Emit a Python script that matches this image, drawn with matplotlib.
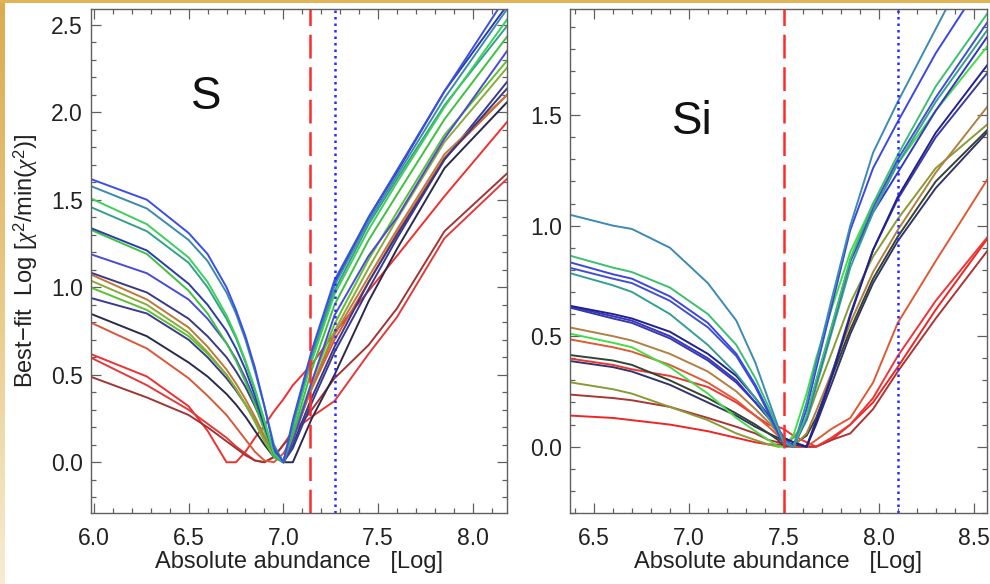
import matplotlib
matplotlib.use("Agg")
import matplotlib.pyplot as plt
import numpy as np
from matplotlib.ticker import MultipleLocator, FormatStrFormatter
from matplotlib.patches import Rectangle
from matplotlib.colors import LinearSegmentedColormap

plt.rcParams['font.family'] = ['Liberation Sans', 'DejaVu Sans']
plt.rcParams['mathtext.fontset'] = 'custom'
plt.rcParams['mathtext.rm'] = 'Liberation Sans'
plt.rcParams['mathtext.it'] = 'Liberation Serif:italic'

# ---------------- data : S panel ----------------
xs_S = [5.98, 6.28, 6.5, 6.6, 6.7, 6.75, 6.8, 6.85, 6.9, 6.95, 7.0, 7.05, 7.15, 7.27, 7.45, 7.6, 7.85, 8.2]
s_blue1   = [1.62, 1.50, 1.31, 1.19, 1.00, 0.87, 0.72, 0.54, 0.32, 0.08, 0.00, 0.24, 0.64, 1.04, 1.40, 1.67, 2.12, 2.70]
s_teal    = [1.58, 1.45, 1.27, 1.15, 0.97, 0.85, 0.70, 0.52, 0.32, 0.10, 0.00, 0.22, 0.62, 1.01, 1.38, 1.64, 2.08, 2.62]
s_green1  = [1.51, 1.36, 1.17, 1.03, 0.84, 0.72, 0.58, 0.42, 0.24, 0.05, 0.00, 0.20, 0.58, 0.96, 1.33, 1.60, 2.03, 2.56]
s_tgreen  = [1.46, 1.32, 1.14, 1.00, 0.82, 0.71, 0.57, 0.41, 0.23, 0.04, 0.00, 0.21, 0.60, 0.98, 1.36, 1.62, 2.04, 2.52]
s_navyb   = [1.34, 1.21, 1.02, 0.90, 0.75, 0.65, 0.53, 0.38, 0.21, 0.05, 0.00, 0.20, 0.60, 1.02, 1.40, 1.66, 2.12, 2.64]
s_green2  = [1.33, 1.19, 0.98, 0.85, 0.68, 0.58, 0.46, 0.33, 0.18, 0.04, 0.00, 0.16, 0.53, 0.90, 1.27, 1.53, 1.96, 2.46]
s_blue2   = [1.19, 1.08, 0.93, 0.82, 0.68, 0.59, 0.48, 0.35, 0.20, 0.05, 0.00, 0.12, 0.46, 0.84, 1.18, 1.40, 1.85, 2.38]
s_navy1   = [1.085, 0.97, 0.82, 0.72, 0.60, 0.52, 0.43, 0.32, 0.20, 0.07, 0.00, 0.10, 0.37, 0.66, 1.03, 1.30, 1.73, 2.16]
s_brown   = [1.075, 0.93, 0.77, 0.66, 0.53, 0.45, 0.36, 0.26, 0.15, 0.05, 0.00, 0.13, 0.43, 0.73, 1.06, 1.33, 1.76, 2.12]
s_olive   = [1.04, 0.90, 0.74, 0.63, 0.50, 0.42, 0.33, 0.24, 0.13, 0.04, 0.00, 0.13, 0.43, 0.75, 1.11, 1.39, 1.83, 2.28]
s_green3  = [1.00, 0.87, 0.72, 0.62, 0.50, 0.42, 0.33, 0.23, 0.12, 0.03, 0.00, 0.15, 0.46, 0.79, 1.16, 1.43, 1.87, 2.32]
s_navy2   = [0.94, 0.85, 0.70, 0.60, 0.48, 0.41, 0.33, 0.24, 0.14, 0.05, 0.00, 0.08, 0.34, 0.63, 0.99, 1.28, 1.73, 2.20]
s_dnavy   = [0.85, 0.72, 0.57, 0.49, 0.39, 0.33, 0.26, 0.18, 0.10, 0.03, 0.00, 0.00, 0.25, 0.50, 0.92, 1.22, 1.68, 2.08]
s_orange  = [0.80, 0.65, 0.48, 0.38, 0.27, 0.20, 0.13, 0.06, 0.01, 0.00, 0.05, 0.15, 0.42, 0.70, 1.03, 1.31, 1.74, 2.12]
s_red1    = [0.62, 0.49, 0.32, 0.18, 0.00, 0.00, 0.06, 0.14, 0.21, 0.29, 0.36, 0.44, 0.56, 0.74, 0.98, 1.18, 1.52, 1.97]
s_red2    = [0.60, 0.44, 0.30, 0.22, 0.14, 0.09, 0.05, 0.01, 0.00, 0.03, 0.10, 0.18, 0.26, 0.35, 0.62, 0.83, 1.28, 1.64]
s_dred    = [0.49, 0.37, 0.27, 0.20, 0.12, 0.08, 0.04, 0.01, 0.00, 0.03, 0.10, 0.16, 0.30, 0.48, 0.67, 0.88, 1.32, 1.67]

S_series = [s_red1, s_red2, s_dred, s_orange, s_dnavy, s_navy2, s_green3, s_olive, s_brown,
            s_navy1, s_blue2, s_green2, s_navyb, s_tgreen, s_green1, s_teal, s_blue1]
S_colors = ['#ee3030', '#e03a3a', '#a03535', '#d9583a', '#2a2a4a', '#3a3a90', '#5cc030', '#8aaa3a', '#c0783a',
            '#3a3a80', '#4a4ad8', '#40c040', '#2a3ca8', '#35a08a', '#3ccf5a', '#3d8aab', '#3a4fe6']
S_ref_dashed = 7.14
S_ref_dotted = 7.27

# ---------------- data : Si panel ----------------
xs_Si = [6.37, 6.6, 6.7, 6.9, 7.1, 7.25, 7.35, 7.42, 7.47, 7.5, 7.55, 7.62, 7.67, 7.75, 7.85, 7.97, 8.1, 8.3, 8.58]
si_teal   = [1.05, 1.00, 0.985, 0.90, 0.74, 0.57, 0.38, 0.21, 0.09, 0.03, 0.00, 0.20, 0.38, 0.66, 1.00, 1.33, 1.56, 1.89, 2.35]
si_gteal  = [0.865, 0.81, 0.79, 0.72, 0.60, 0.46, 0.31, 0.18, 0.08, 0.02, 0.00, 0.14, 0.30, 0.54, 0.85, 1.10, 1.32, 1.63, 1.97]
si_blue1  = [0.835, 0.78, 0.76, 0.68, 0.56, 0.42, 0.28, 0.16, 0.07, 0.02, 0.00, 0.17, 0.35, 0.63, 0.98, 1.26, 1.47, 1.78, 2.15]
si_blue2  = [0.81, 0.76, 0.74, 0.66, 0.54, 0.41, 0.27, 0.15, 0.06, 0.01, 0.00, 0.13, 0.29, 0.53, 0.84, 1.08, 1.30, 1.58, 1.93]
si_tgreen = [0.786, 0.73, 0.70, 0.60, 0.46, 0.33, 0.22, 0.13, 0.06, 0.01, 0.00, 0.12, 0.27, 0.51, 0.81, 1.06, 1.28, 1.56, 1.895]
si_navy1  = [0.638, 0.60, 0.58, 0.52, 0.42, 0.32, 0.22, 0.14, 0.08, 0.04, 0.02, 0.00, 0.11, 0.31, 0.59, 0.89, 1.13, 1.42, 1.736]
si_blue3  = [0.635, 0.59, 0.57, 0.50, 0.40, 0.30, 0.20, 0.13, 0.08, 0.04, 0.00, 0.13, 0.29, 0.53, 0.84, 1.06, 1.24, 1.52, 1.865]
si_navy2  = [0.63, 0.58, 0.56, 0.49, 0.39, 0.29, 0.20, 0.13, 0.08, 0.04, 0.02, 0.00, 0.12, 0.32, 0.60, 0.89, 1.12, 1.40, 1.70]
si_brown  = [0.54, 0.50, 0.48, 0.42, 0.34, 0.25, 0.17, 0.11, 0.06, 0.03, 0.00, 0.06, 0.16, 0.33, 0.56, 0.79, 0.98, 1.24, 1.547]
si_green  = [0.512, 0.47, 0.45, 0.36, 0.24, 0.13, 0.07, 0.03, 0.00, 0.00, 0.05, 0.24, 0.40, 0.62, 0.88, 1.10, 1.28, 1.52, 1.82]
si_orange = [0.486, 0.45, 0.43, 0.37, 0.29, 0.21, 0.14, 0.09, 0.05, 0.02, 0.00, 0.00, 0.03, 0.08, 0.13, 0.29, 0.56, 0.84, 1.22]
si_dark   = [0.415, 0.39, 0.37, 0.30, 0.22, 0.15, 0.10, 0.06, 0.03, 0.00, 0.01, 0.05, 0.13, 0.31, 0.53, 0.76, 0.95, 1.20, 1.44]
si_red1   = [0.399, 0.37, 0.35, 0.32, 0.27, 0.20, 0.14, 0.10, 0.09, 0.08, 0.05, 0.02, 0.00, 0.04, 0.10, 0.22, 0.41, 0.66, 0.956]
si_navy3  = [0.388, 0.36, 0.34, 0.28, 0.20, 0.14, 0.09, 0.06, 0.04, 0.02, 0.01, 0.00, 0.10, 0.28, 0.51, 0.74, 0.93, 1.17, 1.43]
si_olive  = [0.292, 0.26, 0.24, 0.18, 0.12, 0.06, 0.03, 0.01, 0.00, 0.01, 0.04, 0.12, 0.24, 0.42, 0.65, 0.86, 1.03, 1.26, 1.464]
si_dred   = [0.236, 0.22, 0.21, 0.18, 0.13, 0.09, 0.06, 0.03, 0.02, 0.01, 0.00, 0.00, 0.00, 0.03, 0.06, 0.17, 0.34, 0.58, 0.895]
si_red2   = [0.141, 0.13, 0.12, 0.10, 0.07, 0.04, 0.02, 0.01, 0.01, 0.00, 0.00, 0.00, 0.00, 0.03, 0.10, 0.20, 0.36, 0.62, 0.95]

Si_series = [si_red2, si_dred, si_red1, si_orange, si_olive, si_navy3, si_dark, si_green, si_brown,
             si_navy2, si_blue3, si_navy1, si_tgreen, si_blue2, si_blue1, si_gteal, si_teal]
Si_colors = ['#ee2525', '#aa3535', '#ee3535', '#dd5a35', '#8a9a35', '#34346a', '#334433', '#45dd45', '#b08040',
             '#3a3aa0', '#3535c8', '#22228a', '#35a090', '#4050d0', '#3a48e0', '#3cc070', '#3d8ab3']
Si_ref_dashed = 7.50
Si_ref_dotted = 8.10

xlabel = 'Absolute abundance   [Log]'
ylabel = r'Best$-$fit  Log [$\chi^2$/min($\chi^2$)]'

# ---------------- figure ----------------
W, H = 990, 584
fig = plt.figure(figsize=(W / 100, H / 100), dpi=100, facecolor='white')

# golden frame decoration
fig.add_artist(Rectangle((0, 1 - 3 / H), 1, 3 / H, transform=fig.transFigure,
                         facecolor='#e2b458', edgecolor='none', zorder=0))
gax = fig.add_axes([0, 0, 5 / W, 1 - 3 / H], zorder=0)
gcm = LinearSegmentedColormap.from_list('gold', ['#f7ecd2', '#e9c985', '#dcab50'])
gax.imshow(np.linspace(1, 0, 100).reshape(-1, 1), aspect='auto', cmap=gcm, origin='upper')
gax.set_axis_off()


def style_axes(ax):
    for sp in ax.spines.values():
        sp.set_color('#606060')
        sp.set_linewidth(1.0)
    ax.xaxis.set_major_locator(MultipleLocator(0.5))
    ax.xaxis.set_minor_locator(MultipleLocator(0.1))
    ax.yaxis.set_major_locator(MultipleLocator(0.5))
    ax.yaxis.set_minor_locator(MultipleLocator(0.1))
    ax.tick_params(which='both', direction='in', top=True, right=True, color='#606060',
                   labelsize=16.5, labelcolor='#222222', width=0.9)
    ax.tick_params(which='major', length=7)
    ax.tick_params(which='minor', length=3.5)
    ax.tick_params(axis='x', which='major', pad=10)
    ax.tick_params(axis='y', which='major', pad=6)
    ax.xaxis.set_major_formatter(FormatStrFormatter('%.1f'))
    ax.yaxis.set_major_formatter(FormatStrFormatter('%.1f'))


# left panel (S)
ax1 = fig.add_axes([91 / W, 1 - 513 / H, (507 - 91) / W, (513 - 9) / H])
for ys, c in zip(S_series, S_colors):
    ax1.plot(xs_S, ys, color=c, lw=1.4, solid_joinstyle='round')
ax1.axvline(S_ref_dashed, color='#ff2a2a', lw=1.8, linestyle=(0, (9.5, 3.5)))
ax1.axvline(S_ref_dotted, color='#2a2aff', lw=1.8, linestyle=(0, (1, 1.6)))
ax1.set_xlim(5.985, 8.18)
ax1.set_ylim(-0.29, 2.59)
style_axes(ax1)
ax1.set_xlabel(xlabel, fontsize=17, color='#222222', labelpad=1)
ax1.set_ylabel(ylabel, fontsize=17, color='#222222', labelpad=8)
ax1.text(0.277, 0.825, 'S', transform=ax1.transAxes, fontsize=33, ha='center', va='center', color='#111111')

# right panel (Si)
ax2 = fig.add_axes([570 / W, 1 - 513 / H, (987 - 570) / W, (513 - 9) / H])
for ys, c in zip(Si_series, Si_colors):
    ax2.plot(xs_Si, ys, color=c, lw=1.4, solid_joinstyle='round')
ax2.axvline(Si_ref_dashed, color='#ff2a2a', lw=1.8, linestyle=(0, (9.5, 3.5)))
ax2.axvline(Si_ref_dotted, color='#2a2aff', lw=1.8, linestyle=(0, (1, 1.6)))
ax2.set_xlim(6.374, 8.57)
ax2.set_ylim(-0.30, 1.98)
style_axes(ax2)
ax2.set_xlabel(xlabel, fontsize=17, color='#222222', labelpad=1)
ax2.text(0.293, 0.776, 'Si', transform=ax2.transAxes, fontsize=33, ha='center', va='center', color='#111111')

fig.savefig('out.png', dpi=100, facecolor='white')
